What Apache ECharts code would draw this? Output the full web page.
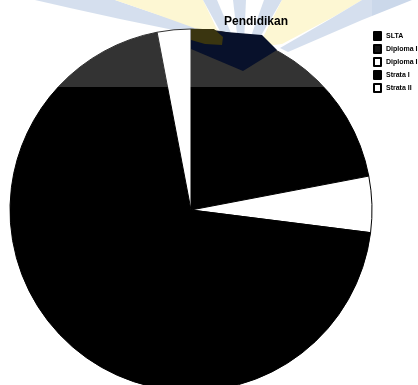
<!DOCTYPE html>
<html>
<head>
<meta charset="utf-8">
<script src="https://cdn.jsdelivr.net/npm/echarts@6/dist/echarts.min.js"></script>
<style>html,body{margin:0;padding:0;background:#fff;}#c{width:418px;height:385px;}</style>
</head>
<body>
<div id="c"></div>
<script>
var titleText = 'Pendidikan';
var categories = ['SLTA', 'Diploma II', 'Diploma III', 'Strata I', 'Strata II'];
var values = [22, 0, 5, 70, 3];
var sliceColors = ['#000000', '#141414', '#ffffff', '#000000', '#ffffff'];

var chart = echarts.init(document.getElementById('c'), null, {renderer: 'canvas'});

function poly(pts, fill, z) {
  return {type: 'polygon', z: z, silent: true, shape: {points: pts}, style: {fill: fill}};
}

var wmBlue = '#cbd8ea', wmYellow = '#fdf5c8';

var option = {
  backgroundColor: '#ffffff',
  animation: false,
  title: {
    text: titleText,
    left: 251,
    top: 11,
    textAlign: 'center',
    z: 10,
    textStyle: {fontFamily: 'Liberation Sans, Arial', fontWeight: 'bold', fontSize: 12, color: '#000'}
  },
  legend: {
    orient: 'vertical',
    left: 368,
    top: 26,
    itemWidth: 7,
    itemHeight: 8,
    itemGap: 3,
    z: 10,
    selectedMode: false,
    icon: 'rect',
    textStyle: {fontFamily: 'Liberation Sans, Arial', fontWeight: 'bold', fontSize: 7, color: '#000'},
    data: categories
  },
  graphic: [
    poly([[35,0],[115,0],[150,12],[196,27],[188,33],[120,19],[70,8]], wmBlue, 0),
    poly([[115,0],[203,0],[222,40],[200,30],[150,12]], wmYellow, 0),
    poly([[203,0],[217,0],[234,40],[226,42]], wmBlue, 0),
    poly([[233,0],[246,0],[244,42],[238,42]], wmBlue, 0),
    poly([[264,0],[282,0],[256,44],[249,42]], wmBlue, 0),
    poly([[282,0],[362,0],[335,16],[282,44],[258,47]], wmYellow, 0),
    poly([[362,0],[412,0],[362,20],[288,52],[280,48],[332,18]], wmBlue, 0),
    {type: 'rect', z: 5, silent: true, shape: {x: 0, y: 0, width: 372, height: 87}, style: {fill: 'rgba(255,255,255,0.2)'}},
    poly([[191,29],[262,35],[277,50],[243,71],[191,49]], '#08112b', 6),
    poly([[191,29],[214,29],[223,37],[222,45],[205,44],[191,40]], '#3a3510', 7)
  ],
  series: [{
    type: 'pie',
    center: [191, 210],
    radius: 181,
    startAngle: 90,
    clockwise: true,
    z: 2,
    silent: true,
    label: {show: false},
    labelLine: {show: false},
    itemStyle: {borderColor: '#000', borderWidth: 1},
    emphasis: {disabled: true},
    data: categories.map(function (c, i) {
      return {name: c, value: values[i], itemStyle: {color: sliceColors[i]}};
    })
  }]
};
chart.setOption(option);
</script>
</body>
</html>
